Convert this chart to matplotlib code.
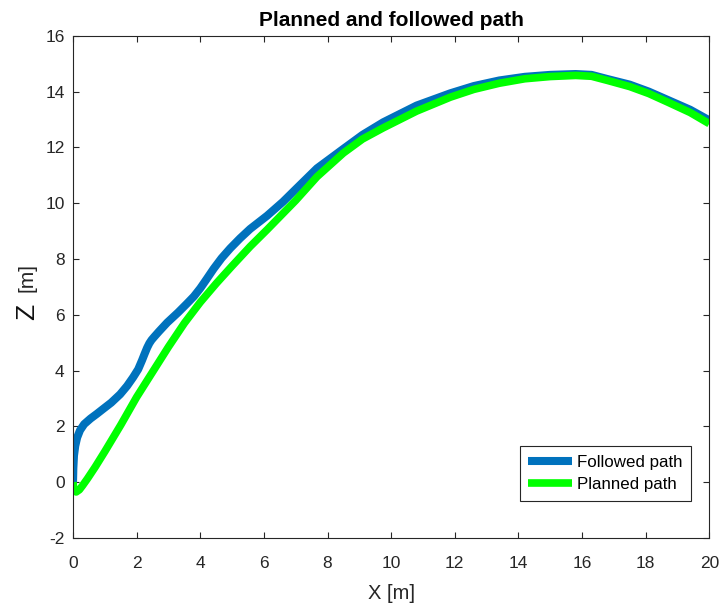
import matplotlib.pyplot as plt
import numpy as np

plt.rcParams['font.family'] = ['Liberation Sans', 'DejaVu Sans']
plt.rcParams['axes.unicode_minus'] = False

# followed path
followed_x = [0.0, 0.01, 0.03, 0.07, 0.13, 0.22, 0.35, 0.55, 0.75, 0.94, 1.2, 1.48, 1.7, 1.89,
              2.05, 2.17, 2.25, 2.33, 2.4, 2.47, 2.56, 2.7, 2.96, 3.3, 3.58, 3.8, 4.0, 4.2,
              4.42, 4.67, 4.94, 5.25, 5.57, 6.1, 6.6, 7.0, 7.67, 8.5, 9.1, 9.75, 10.8, 11.86,
              12.6, 13.4, 14.2, 15.0, 15.8, 16.3, 16.8, 17.5, 18.1, 18.7, 19.4, 20.0]
followed_z = [0.0, 0.5, 0.95, 1.3, 1.6, 1.86, 2.08, 2.28, 2.45, 2.62, 2.85, 3.15, 3.45, 3.76,
              4.05, 4.37, 4.6, 4.82, 4.98, 5.1, 5.22, 5.4, 5.72, 6.08, 6.4, 6.66, 6.95, 7.28,
              7.65, 8.03, 8.38, 8.74, 9.08, 9.55, 10.05, 10.5, 11.25, 11.95, 12.45, 12.9, 13.5,
              13.94, 14.2, 14.4, 14.53, 14.6, 14.63, 14.6, 14.45, 14.25, 14.0, 13.7, 13.35, 12.97]

# planned path
planned_x = [0.0, 0.02, 0.05, 0.1, 0.2, 0.3, 0.45, 0.7, 1.0, 1.5, 2.0, 2.5, 3.0, 3.5, 4.0, 4.5,
             5.0, 5.57, 6.1, 7.0, 7.67, 8.5, 9.1, 9.75, 10.8, 11.86, 12.6, 13.4, 14.2, 15.0,
             15.8, 16.3, 16.8, 17.5, 18.1, 18.7, 19.4, 20.0]
planned_z = [0.0, -0.2, -0.32, -0.35, -0.27, -0.12, 0.12, 0.55, 1.1, 2.05, 3.05, 3.95, 4.85,
             5.7, 6.45, 7.12, 7.75, 8.45, 9.05, 10.1, 10.95, 11.8, 12.3, 12.7, 13.3, 13.8,
             14.08, 14.3, 14.46, 14.54, 14.58, 14.55, 14.4, 14.18, 13.93, 13.62, 13.25, 12.85]

fig = plt.figure(figsize=(7.23, 6.07), dpi=100)
ax = fig.add_axes([0.101, 0.1137, 0.880, 0.8273])

ax.plot(followed_x, followed_z, color='#0072BD', lw=5.8, solid_capstyle='butt',
        solid_joinstyle='round', label='Followed path')
ax.plot(planned_x, planned_z, color='#00FF00', lw=5.5, solid_capstyle='butt',
        solid_joinstyle='round', label='Planned path')

ax.set_xlim(0, 20)
ax.set_ylim(-2, 16)
ax.set_xticks(np.arange(0, 21, 2))
ax.set_yticks(np.arange(-2, 17, 2))
ax.tick_params(direction='in', top=True, right=True, labelsize=12.5,
               colors='#262626', length=4)
ax.tick_params(axis='x', pad=13)
ax.tick_params(axis='y', pad=6)
for s in ax.spines.values():
    s.set_color('#262626')
    s.set_linewidth(0.8)

ax.set_title('Planned and followed path', fontsize=15, fontweight='bold', pad=7)
ax.set_xlabel('X [m]', fontsize=14.5, color='#262626', labelpad=9)

# y label: the Z is drawn larger than the unit in the original
fig.text(27 / 723, 1 - 277 / 607, '[m]', rotation=90, fontsize=15, color='#262626',
         ha='center', va='center')
fig.text(27 / 723, 1 - 312 / 607, 'Z', rotation=90, fontsize=19, color='#111111',
         ha='center', va='center')

leg = ax.legend(loc='lower right', bbox_to_anchor=(0.972, 0.074), borderaxespad=0,
                fontsize=12.2, fancybox=False, framealpha=1, edgecolor='#262626',
                handlelength=2.6, borderpad=0.5, labelspacing=0.45, handletextpad=0.3)
leg.get_frame().set_linewidth(0.8)

fig.savefig('out.png', dpi=100)
